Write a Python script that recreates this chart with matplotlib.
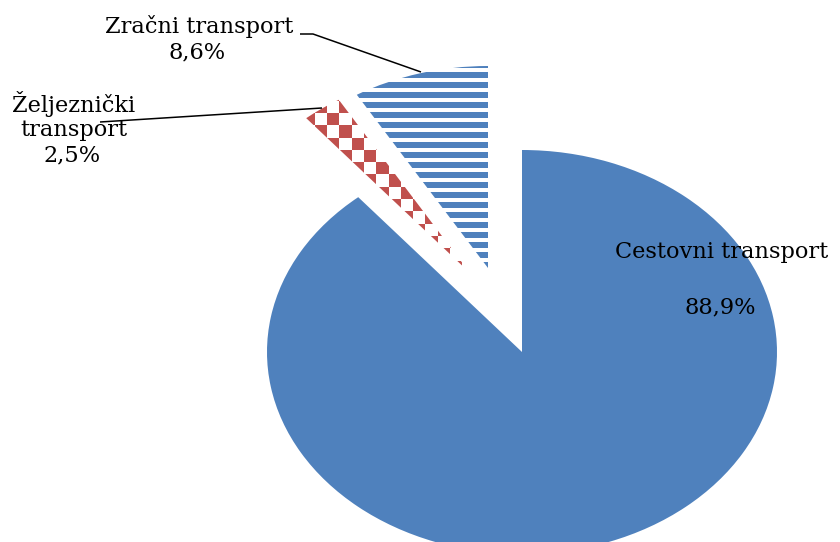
import matplotlib
matplotlib.use("Agg")
import matplotlib.pyplot as plt
from matplotlib.patches import Rectangle
from matplotlib.collections import PatchCollection
import numpy as np

# ---- data ----
categories = ["Cestovni transport", "Željeznički transport", "Zračni transport"]
values = [88.9, 2.5, 8.6]

BLUE = "#4F81BD"
RED = "#C0504D"

W, H = 840, 542
CX, CY = 522, 352     # pie centre in pixels
RX, RY = 255, 202     # pie radii in pixels (stretched ellipse)


def d(px, py):
    """pixel position -> data coordinates"""
    return ((px - CX) / RX, (CY - py) / RY)


def pct(v):
    return f"{v:.1f}%".replace(".", ",")


fig = plt.figure(figsize=(W / 100, H / 100), dpi=100)
ax = fig.add_axes([0, 0, 1, 1])

wedges, _ = ax.pie(values, colors=[BLUE, "white", "white"], startangle=90,
                   counterclock=False, radius=1, center=(0, 0),
                   wedgeprops=dict(linewidth=0, edgecolor="none"))
ax.set_aspect("auto")
ax.set_xlim(d(0, 0)[0], d(W, 0)[0])
ax.set_ylim(d(0, H)[1], d(0, 0)[1])
ax.axis("off")

# exploded slices
wedges[1].set_center(d(470, 273))
wedges[2].set_center(d(488, 268))

# horizontal stripes for Zračni transport
rects = []
for c in np.arange(55, 300, 10.0):
    x0, y0 = d(290, c + 2.6)
    rects.append(Rectangle((x0, y0), 220 / RX, 5.2 / RY))
pc = PatchCollection(rects, facecolor=BLUE, edgecolor="none", zorder=3)
ax.add_collection(pc)
pc.set_clip_path(wedges[2])

# checkerboard for Željeznički transport
cell = 12.3
sq = []
for i in range(-5, 16):
    for j in range(-5, 18):
        if (i + j) % 2 == 0:
            x0p = 327 + cell * i
            y0p = 113 + cell * j
            x0, y0 = d(x0p, y0p + cell)
            sq.append(Rectangle((x0, y0), cell / RX, cell / RY))
cc = PatchCollection(sq, facecolor=RED, edgecolor="none", zorder=3)
ax.add_collection(cc)
cc.set_clip_path(wedges[1])

font = dict(family="DejaVu Serif", size=16.2, color="black", ha="center",
            va="baseline", zorder=5)

# Cestovni
ax.text(*d(722, 258), categories[0], **font)
ax.text(*d(720, 313), pct(values[0]), **font)

# Zeljeznicki
w1, w2 = categories[1].split(" ")
ax.text(*d(74, 112), w1, **font)
ax.text(*d(74, 136), w2, **font)
ax.text(*d(72, 161), pct(values[1]), **font)

# Zracni
ax.text(*d(199, 33), categories[2], **font)
ax.text(*d(197, 58), pct(values[2]), **font)

# leader lines
pts = [d(300, 34), d(313, 34), d(421, 72)]
ax.plot([p[0] for p in pts], [p[1] for p in pts], color="black", lw=1.1,
        zorder=6, solid_capstyle="butt")
pts = [d(100, 122), d(322, 108)]
ax.plot([p[0] for p in pts], [p[1] for p in pts], color="black", lw=1.1,
        zorder=6, solid_capstyle="butt")

fig.savefig("out.png", dpi=100)
